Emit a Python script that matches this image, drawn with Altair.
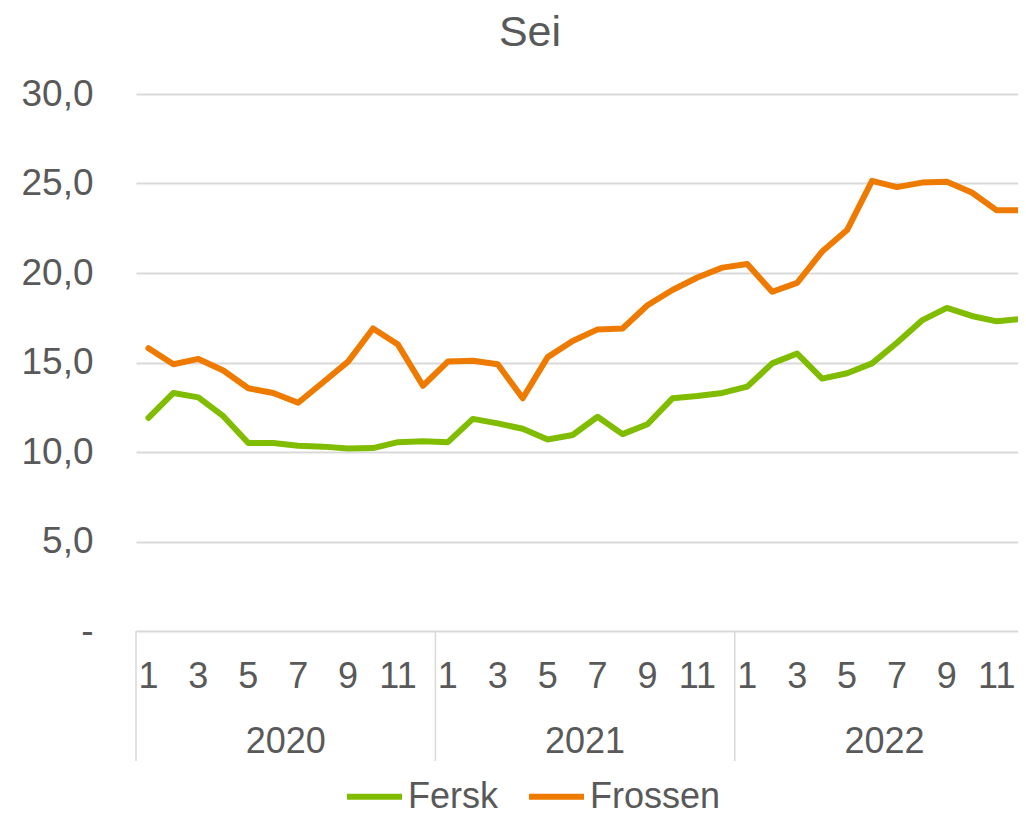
import altair as alt
import pandas as pd

# ---- data ----
title_text = "Sei"
years = [2020, 2021, 2022]
months = list(range(1, 13))
series = ["Fersk", "Frossen"]
colors = ["#80BC00", "#EE7B00"]

fersk = [11.9, 13.3, 13.05, 12.0, 10.5, 10.5, 10.35, 10.3, 10.2, 10.22, 10.55, 10.6,
         10.55, 11.85, 11.6, 11.3, 10.7, 10.95, 11.97, 11.0, 11.55, 13.0, 13.13, 13.3,
         13.65, 14.95, 15.5, 14.1, 14.4, 14.95, 16.1, 17.35, 18.05, 17.6, 17.3, 17.43]
frossen = [15.8, 14.9, 15.2, 14.55, 13.56, 13.3, 12.75, 13.9, 15.05, 16.9, 16.0, 13.7,
           15.05, 15.1, 14.9, 13.0, 15.3, 16.2, 16.85, 16.9, 18.2, 19.05, 19.75, 20.3,
           20.5, 18.95, 19.45, 21.2, 22.4, 25.15, 24.8, 25.05, 25.1, 24.5, 23.5, 23.5]
y_ticks = [0, 5, 10, 15, 20, 25, 30]

FONT = "Liberation Sans"
TXT = "#595959"
GRID = "#D9D9D9"
W, H = 882, 537
X_MAX = W / 24.95  # visible months (reference is cropped at the right edge)

# ---- tables ----
rows = []
for s, vals in zip(series, [fersk, frossen]):
    i = 0
    for y in years:
        for m in months:
            rows.append({"pos": i + 0.5, "series": s, "value": vals[i], "year": y, "month": m})
            i += 1
df = pd.DataFrame(rows)

month_rows = []
for k, y in enumerate(years):
    for m in months:
        if m % 2 == 1:
            month_rows.append({"pos": k * 12 + m - 0.5, "label": str(m)})
df_months = pd.DataFrame(month_rows)
df_years = pd.DataFrame({"pos": [k * 12 + 6 for k in range(len(years))],
                         "label": [str(y) for y in years]})
df_sep = pd.DataFrame({"pos": [k * 12 for k in range(len(years))]})
df_title = pd.DataFrame({"label": [title_text]})

xscale = alt.Scale(domain=[0, X_MAX], nice=False, zero=False)
NB = "\u00a0"

lines = alt.Chart(df).mark_line(strokeWidth=6, clip=True, strokeJoin="round", strokeCap="round").encode(
    x=alt.X("pos:Q", scale=xscale, axis=None),
    y=alt.Y("value:Q", scale=alt.Scale(domain=[0, 30], nice=False, zero=True),
            axis=alt.Axis(values=y_ticks, title=None, grid=True, gridColor=GRID, gridWidth=2,
                          domain=False, ticks=False, labelFont=FONT, labelFontSize=37,
                          labelColor=TXT, labelPadding=43,
                          labelExpr=f"datum.value == 0 ? '-{NB}{NB}' : replace(format(datum.value, '.1f'), '.', ',')")),
    color=alt.Color("series:N", scale=alt.Scale(domain=series, range=colors),
                    legend=alt.Legend(title=None, orient="none", legendX=208, legendY=672,
                                      direction="horizontal", symbolType="stroke",
                                      symbolSize=3025, symbolStrokeWidth=6,
                                      labelFont=FONT, labelFontSize=36, labelColor=TXT,
                                      labelOffset=3, columnPadding=19, padding=0,
                                      labelLimit=300)),
    detail="series:N",
)

seps = alt.Chart(df_sep).mark_rule(color=GRID, strokeWidth=1.5).encode(
    x=alt.X("pos:Q", scale=xscale, axis=None),
    y=alt.value(H), y2=alt.value(H + 130),
)

month_text = alt.Chart(df_months).mark_text(font=FONT, fontSize=36, color=TXT,
                                            align="center", baseline="alphabetic").encode(
    x=alt.X("pos:Q", scale=xscale, axis=None),
    y=alt.value(H + 57),
    text="label:N",
)

year_text = alt.Chart(df_years).mark_text(font=FONT, fontSize=36, color=TXT,
                                          align="center", baseline="alphabetic").encode(
    x=alt.X("pos:Q", scale=xscale, axis=None),
    y=alt.value(H + 122),
    text="label:N",
)

title = alt.Chart(df_title).mark_text(font=FONT, fontSize=43, color=TXT,
                                      align="center", baseline="alphabetic").encode(
    x=alt.value(394), y=alt.value(-48), text="label:N",
)

chart = alt.layer(seps, lines, month_text, year_text, title).properties(
    width=W, height=H,
    autosize=alt.AutoSizeParams(type="none"),
    padding={"left": 128, "top": 86, "right": 0, "bottom": 186},
).configure(font=FONT, view=alt.ViewConfig(stroke=None))

chart.save("out.html", embed_options={"renderer": "svg", "actions": False})
